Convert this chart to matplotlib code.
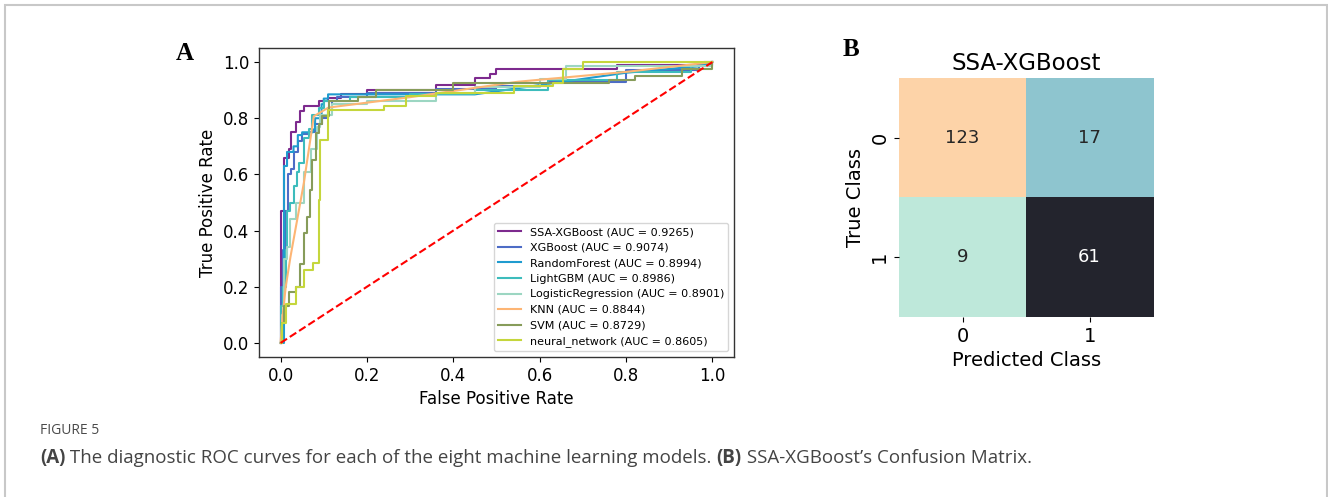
# plot.py
# ROC curves of eight models (A) and the SSA-XGBoost confusion matrix (B).

import matplotlib
matplotlib.use("Agg")
import matplotlib.pyplot as plt
from matplotlib.colors import LinearSegmentedColormap
from matplotlib.patches import Rectangle
from matplotlib import font_manager
import numpy as np

plt.rcParams["font.family"] = "DejaVu Sans"

# ---- ROC data ----
models = ["SSA-XGBoost", "XGBoost", "RandomForest", "LightGBM",
          "LogisticRegression", "KNN", "SVM", "neural_network"]
aucs = [0.9265, 0.9074, 0.8994, 0.8986, 0.8901, 0.8844, 0.8729, 0.8605]
colors = ["#7d2a8e", "#4d6cc6", "#1f9bcf", "#3dbcbc",
          "#9cd6c2", "#fdb574", "#879c5a", "#c5d63c"]

# step curves: each point is where the curve rises, then runs right
fpr_ssa = [0, 0, 0.009, 0.019, 0.025, 0.035, 0.045, 0.055, 0.09, 0.11, 0.14,
           0.20, 0.36, 0.45, 0.485, 0.50, 0.78, 0.98, 1.0]
tpr_ssa = [0, 0.47, 0.66, 0.69, 0.75, 0.785, 0.825, 0.843, 0.86, 0.873, 0.886,
           0.902, 0.917, 0.944, 0.958, 0.974, 0.988, 1.0, 1.0]

fpr_xgb = [0, 0, 0.005, 0.01, 0.018, 0.025, 0.03, 0.04, 0.05, 0.065, 0.08,
           0.095, 0.11, 0.12, 0.13, 0.20, 0.36, 0.50, 0.62, 0.80, 0.97, 1.0]
tpr_xgb = [0, 0.20, 0.33, 0.47, 0.60, 0.62, 0.68, 0.72, 0.745, 0.75, 0.78,
           0.80, 0.83, 0.86, 0.875, 0.89, 0.905, 0.915, 0.93, 0.97, 0.99, 1.0]

# random forest has a slanted stretch, so it is given as plain vertices
fpr_rf = [0, 0.008, 0.008, 0.015, 0.015, 0.03, 0.03, 0.04, 0.04, 0.05, 0.05,
          0.075, 0.075, 0.08, 0.08, 0.095, 0.095, 0.10, 0.10, 0.11, 0.11,
          0.45, 0.80, 0.97, 1.0]
tpr_rf = [0, 0, 0.63, 0.63, 0.68, 0.68, 0.70, 0.70, 0.74, 0.74, 0.75,
          0.75, 0.76, 0.76, 0.80, 0.80, 0.85, 0.85, 0.87, 0.87, 0.885,
          0.885, 0.962, 0.985, 1.0]

fpr_lgb = [0, 0, 0.005, 0.012, 0.015, 0.023, 0.03, 0.038, 0.042, 0.054, 0.065,
           0.073, 0.088, 0.10, 0.16, 0.30, 0.45, 0.62, 0.78, 0.95, 1.0]
tpr_lgb = [0, 0.13, 0.20, 0.33, 0.47, 0.50, 0.56, 0.61, 0.64, 0.73, 0.76,
           0.81, 0.838, 0.86, 0.875, 0.885, 0.90, 0.935, 0.965, 0.985, 1.0]

fpr_lr = [0, 0.003, 0.007, 0.015, 0.023, 0.035, 0.054, 0.07, 0.085, 0.092,
          0.12, 0.20, 0.36, 0.45, 0.60, 0.66, 0.95, 1.0]
tpr_lr = [0, 0.10, 0.30, 0.34, 0.44, 0.50, 0.61, 0.69, 0.77, 0.81,
          0.85, 0.86, 0.89, 0.91, 0.94, 0.985, 0.985, 1.0]

# KNN has few thresholds, drawn as straight segments
fpr_knn = [0, 0.005, 0.012, 0.023, 0.054, 0.077, 0.111, 0.30, 0.55, 0.80, 1.0]
tpr_knn = [0, 0.10, 0.20, 0.307, 0.57, 0.807, 0.838, 0.875, 0.93, 0.965, 1.0]

fpr_svm = [0, 0.004, 0.008, 0.019, 0.035, 0.046, 0.054, 0.062, 0.069, 0.073,
           0.081, 0.088, 0.096, 0.112, 0.18, 0.22, 0.40, 0.76, 0.82, 0.93, 1.0]
tpr_svm = [0, 0.07, 0.13, 0.18, 0.20, 0.28, 0.39, 0.45, 0.545, 0.653,
           0.748, 0.778, 0.808, 0.86, 0.875, 0.902, 0.927, 0.935, 0.95, 0.975, 1.0]

fpr_nn = [0, 0.003, 0.0115, 0.035, 0.054, 0.075, 0.088, 0.092, 0.109, 0.24,
          0.29, 0.36, 0.54, 0.63, 0.655, 0.70, 1.0]
tpr_nn = [0, 0.07, 0.14, 0.20, 0.26, 0.285, 0.51, 0.724, 0.831, 0.843,
          0.879, 0.89, 0.914, 0.927, 0.974, 1.0, 1.0]

curves = [(fpr_ssa, tpr_ssa, "steps-post"), (fpr_xgb, tpr_xgb, "steps-post"),
          (fpr_rf, tpr_rf, "default"), (fpr_lgb, tpr_lgb, "steps-post"),
          (fpr_lr, tpr_lr, "steps-post"), (fpr_knn, tpr_knn, "default"),
          (fpr_svm, tpr_svm, "steps-post"), (fpr_nn, tpr_nn, "steps-post")]

# ---- confusion matrix ----
cm = np.array([[123, 17], [9, 61]])
class_labels = ["0", "1"]

fig = plt.figure(figsize=(13.28, 4.97), dpi=100)

# page frame
fig.patches.append(Rectangle((4.5 / 1328, -0.1), 1322.5 / 1328, 1.1 - 4.5 / 497,
                             transform=fig.transFigure, fill=False,
                             edgecolor="#c8c8c8", linewidth=1.5))

# ---- panel A ----
ax = fig.add_axes([0.195, 0.2817, 0.3577, 0.6217])
for (fx, ty, ds), name, auc, col in zip(curves, models, aucs, colors):
    ax.plot(fx, ty, drawstyle=ds, color=col, lw=1.5,
            label=f"{name} (AUC = {auc:.4f})")
ax.plot([0, 1], [0, 1], "r--", lw=1.5)
ax.set_xlabel("False Positive Rate", fontsize=12)
ax.set_ylabel("True Positive Rate", fontsize=12)
ax.tick_params(labelsize=12)
for s in ax.spines.values():
    s.set_linewidth(1.0)
    s.set_color("#333333")
ax.legend(loc="lower right", fontsize=8, labelspacing=0.5)

# ---- panel B ----
axb = fig.add_axes([0.677, 0.3622, 0.1913, 0.481])
cmap = LinearSegmentedColormap.from_list(
    "cm", [(0.0, "#bee8da"), (0.07, "#8cc4cf"), (0.46, "#22222b"), (1.0, "#fdd3a8")])
axb.imshow(cm, cmap=cmap, vmin=9, vmax=123, aspect="auto")
for i in range(2):
    for j in range(2):
        axb.text(j, i, str(cm[i, j]), ha="center", va="center", fontsize=13,
                 color="white" if cm[i, j] == 61 else "#262626")
axb.set_xticks([0, 1])
axb.set_yticks([0, 1])
axb.set_xticklabels(class_labels, fontsize=14)
axb.set_yticklabels(class_labels, fontsize=14, rotation=90, va="center")
for s in axb.spines.values():
    s.set_visible(False)
axb.set_xlabel("Predicted Class", fontsize=14)
axb.set_ylabel("True Class", fontsize=14)
axb.set_title("SSA-XGBoost", fontsize=16.5)

# panel letters
fig.text(176 / 1328, 1 - 53 / 497, "A", fontsize=18, fontweight="bold",
         family="Liberation Serif", va="center")
fig.text(843 / 1328, 1 - 49 / 497, "B", fontsize=18, fontweight="bold",
         family="Liberation Serif", va="center")

# caption (condensed face if available)
names = {f.name for f in font_manager.fontManager.ttflist}
cap_font = "Liberation Sans Narrow" if "Liberation Sans Narrow" in names else "Open Sans"
cap_size = 14 if cap_font == "Liberation Sans Narrow" else 13.5

fig.text(40 / 1328, 1 - 431 / 497, "FIGURE 5", fontsize=10, color="#4a4a4a",
         family=cap_font, va="center")
cap_y = 1 - 458 / 497
t1 = fig.text(40 / 1328, cap_y, "(A)", fontsize=cap_size, fontweight="bold",
              color="#444444", family=cap_font, va="center")
fig.canvas.draw()
r = fig.canvas.get_renderer()
bb = t1.get_window_extent(r)
t2 = fig.text(bb.x1 / 1328, cap_y,
              " The diagnostic ROC curves for each of the eight machine learning models. ",
              fontsize=cap_size, color="#444444", family=cap_font, va="center")
bb = t2.get_window_extent(r)
t3 = fig.text(bb.x1 / 1328, cap_y, "(B)", fontsize=cap_size, fontweight="bold",
              color="#444444", family=cap_font, va="center")
bb = t3.get_window_extent(r)
fig.text(bb.x1 / 1328, cap_y, " SSA-XGBoost\u2019s Confusion Matrix.", fontsize=cap_size,
         color="#444444", family=cap_font, va="center")

fig.savefig("out.png", dpi=100)
